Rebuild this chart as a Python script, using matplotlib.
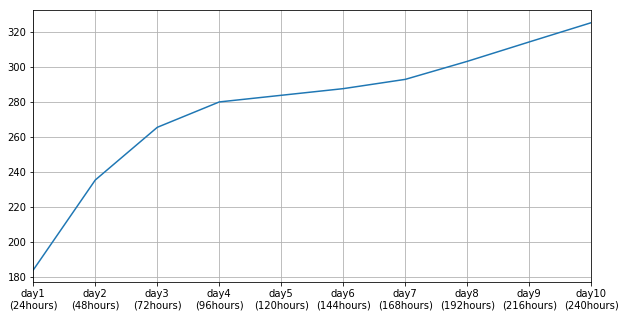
import matplotlib
matplotlib.use("Agg")
import matplotlib.pyplot as plt

days = ["day1", "day2", "day3", "day4", "day5", "day6", "day7", "day8", "day9", "day10"]
hours = [24, 48, 72, 96, 120, 144, 168, 192, 216, 240]
values = [184.2, 235.6, 265.7, 280.2, 284.0, 287.8, 293.1, 303.4, 314.5, 325.5]

labels = [f"{d}\n({h}hours)" for d, h in zip(days, hours)]

dpi = 72
fig = plt.figure(figsize=(625 / dpi, 318 / dpi), dpi=dpi)
ax = fig.add_axes([33.3 / 625, 1 - 282.3 / 318, (591.3 - 33.3) / 625, (282.3 - 10.3) / 318])
x = list(range(len(values)))
ax.plot(x, values, color="#1f77b4", linewidth=1.5)
ax.set_xticks(x)
ax.set_xticklabels(labels, fontsize=10)
ax.tick_params(axis="y", labelsize=10)
ax.set_xlim(0, len(values) - 1)
ax.grid(True)
fig.savefig("out.png", dpi=dpi)
